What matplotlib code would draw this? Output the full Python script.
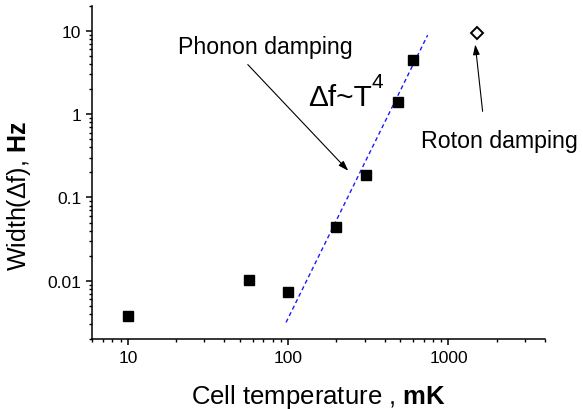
import matplotlib
matplotlib.use("Agg")
import matplotlib.pyplot as plt
from matplotlib.ticker import FixedLocator, LogLocator, NullFormatter, FuncFormatter

plt.rcParams['font.family'] = ['Liberation Sans', 'DejaVu Sans']
plt.rcParams['mathtext.fontset'] = 'custom'
plt.rcParams['mathtext.rm'] = 'Liberation Sans'
plt.rcParams['mathtext.bf'] = 'Liberation Sans:bold'

# phonon-damped points (mK, Hz)
temps = [10, 57, 100, 199, 308, 485, 597]
widths = [0.0038, 0.0102, 0.0074, 0.044, 0.187, 1.39, 4.5]

# roton-damped point
roton_temps = [1507]
roton_widths = [9.5]

# T^4 guide line, end points
fit_temps = [97, 741]
fit_widths = [0.00316, 8.85]

x_ticks = [10, 100, 1000]
y_ticks = [0.01, 0.1, 1, 10]

fig = plt.figure(figsize=(5.83, 4.10), dpi=100)
ax = fig.add_axes([0.1583, 0.1707, 0.7765, 0.813])

ax.plot(fit_temps, fit_widths, color='#1a1aff', lw=1.0, ls=(0, (3, 2.2)))
ax.plot(temps, widths, 's', color='black', markersize=7.5, ls='none')
ax.plot(roton_temps, roton_widths, 'D', markerfacecolor='white',
        markeredgecolor='black', markeredgewidth=1.4, markersize=6.5, ls='none')

ax.set_xscale('log')
ax.set_yscale('log')
ax.set_xlim(6, 4000)
ax.set_ylim(0.002, 20)

ax.xaxis.set_major_locator(FixedLocator(x_ticks))
ax.yaxis.set_major_locator(FixedLocator(y_ticks))
ax.xaxis.set_minor_locator(LogLocator(base=10, subs=range(2, 10), numticks=20))
ax.yaxis.set_minor_locator(LogLocator(base=10, subs=range(2, 10), numticks=20))
fmt = FuncFormatter(lambda v, p: '%g' % v)
ax.xaxis.set_major_formatter(fmt)
ax.yaxis.set_major_formatter(fmt)
ax.xaxis.set_minor_formatter(NullFormatter())
ax.yaxis.set_minor_formatter(NullFormatter())

for side in ['top', 'right']:
    ax.spines[side].set_visible(False)
for side in ['left', 'bottom']:
    ax.spines[side].set_linewidth(1.1)

ax.tick_params(which='major', direction='out', length=4, width=1.1, labelsize=12.5, pad=4)
ax.tick_params(which='minor', direction='out', length=2.2, width=1.0)

ax.set_xlabel('Cell temperature , $\\mathbf{mK}$', fontsize=18.5, labelpad=12)
ax.set_ylabel('Width(\u0394f), $\\mathbf{Hz}$', fontsize=18)
ax.yaxis.set_label_coords(-0.131, 0.432)

# annotations
ax.text(20.6, 5.48, 'Phonon damping', fontsize=16.7, va='baseline', ha='left')
ax.annotate('', xy=(237, 0.209), xytext=(56, 3.93),
            arrowprops=dict(arrowstyle='-|>,head_length=0.6,head_width=0.2',
                            color='black', lw=0.8, shrinkA=0, shrinkB=0,
                            mutation_scale=10))
ax.text(675, 0.40, 'Roton damping', fontsize=16.7, va='baseline', ha='left')
ax.annotate('', xy=(1469, 6.84), xytext=(1633, 1.08),
            arrowprops=dict(arrowstyle='-|>,head_length=0.6,head_width=0.2',
                            color='black', lw=0.8, shrinkA=0, shrinkB=0,
                            mutation_scale=10))
ax.text(134, 1.27, '\u0394f~T', fontsize=21.5, va='baseline', ha='left')
ax.text(333, 2.11, '4', fontsize=15, va='baseline', ha='left')

fig.savefig('out.png', dpi=100)
